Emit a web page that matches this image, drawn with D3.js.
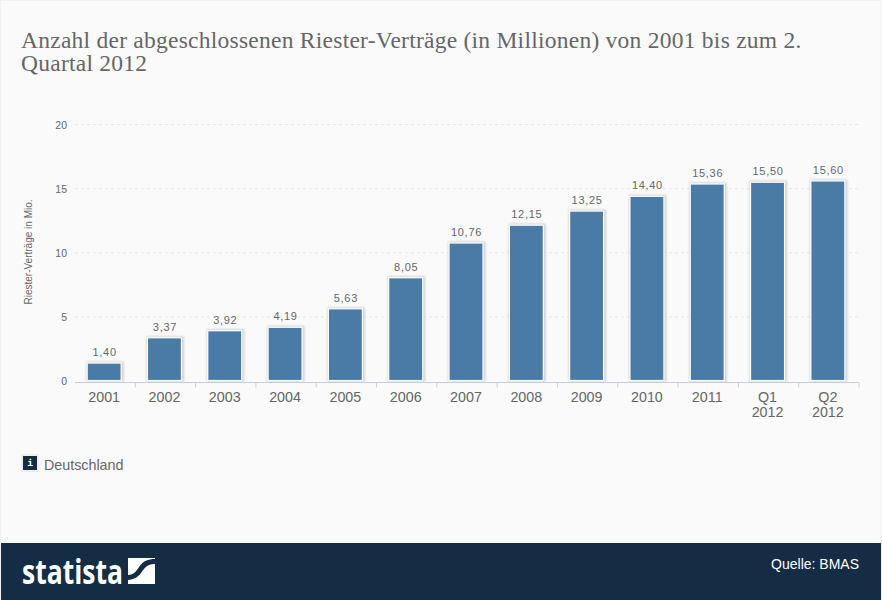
<!DOCTYPE html>
<html>
<head>
<meta charset="utf-8">
<script src="https://cdn.jsdelivr.net/npm/d3@7"></script>
<style>
  html, body { margin: 0; padding: 0; background: #fafafa; }
  svg { display: block; }
</style>
</head>
<body>
<svg id="chart" width="882" height="600"></svg>
<script>
const categories = ["2001", "2002", "2003", "2004", "2005", "2006", "2007", "2008", "2009", "2010", "2011", "Q1 2012", "Q2 2012"];
const values = [1.40, 3.37, 3.92, 4.19, 5.63, 8.05, 10.76, 12.15, 13.25, 14.40, 15.36, 15.50, 15.60];
const yTicks = [0, 5, 10, 15, 20];
const titleLines = ["Anzahl der abgeschlossenen Riester-Verträge (in Millionen) von 2001 bis zum 2.", "Quartal 2012"];

const sans = "Arial, 'Liberation Sans', sans-serif";
const svg = d3.select("#chart");

// blur for the bar shadows
svg.append("defs").append("filter").attr("id", "soft")
    .attr("x", "-20%").attr("y", "-20%").attr("width", "140%").attr("height", "140%")
    .append("feGaussianBlur").attr("stdDeviation", 1);

// page background with the thin lighter frame
svg.append("rect").attr("width", 882).attr("height", 600).attr("fill", "#f0f0f0");
svg.append("rect").attr("x", 1).attr("y", 1).attr("width", 880).attr("height", 598).attr("fill", "#fafafa");

// title, one text with a line per tspan
svg.append("text")
    .attr("fill", "#666666")
    .style("font-family", "'Liberation Serif', serif")
    .style("font-size", "23.5px")
    .style("letter-spacing", "0.25px")
    .selectAll("tspan").data(titleLines).join("tspan")
    .attr("x", 21)
    .attr("y", (d, i) => 48 + i * 23)
    .text(d => d);

const x = d3.scaleBand().domain(categories).range([75, 859]);
const y = d3.scaleLinear().domain([0, 20]).range([381, 124.5]);

// gridlines
svg.append("g").selectAll("line").data(yTicks.filter(d => d > 0)).join("line")
    .attr("x1", 75).attr("x2", 859)
    .attr("y1", d => y(d)).attr("y2", d => y(d))
    .attr("stroke", "#e6e6e6")
    .attr("stroke-dasharray", "3,3");

// y axis labels
svg.append("g").selectAll("text").data(yTicks).join("text")
    .attr("x", 67)
    .attr("y", d => y(d) + 4)
    .attr("text-anchor", "end")
    .attr("fill", "#666666")
    .style("font-family", sans)
    .style("font-size", "10.5px")
    .text(d => d);

svg.append("text")
    .attr("transform", "translate(32,252) rotate(-90)")
    .attr("text-anchor", "middle")
    .attr("fill", "#666666")
    .style("font-family", sans)
    .style("font-size", "10px")
    .text("Riester-Verträge in Mio.");

// bars
const barW = 34;
const barX = d => x(d) + (x.bandwidth() - barW) / 2 - 1;
const bars = svg.append("g");

// soft shadow behind each bar
bars.selectAll("rect.shadow").data(categories).join("rect")
    .attr("class", "shadow")
    .attr("x", d => barX(d) - 1)
    .attr("y", (d, i) => y(values[i]) - 1.5)
    .attr("width", barW + 3.5)
    .attr("height", (d, i) => y(0) - y(values[i]) + 2)
    .attr("fill", "#d2d2d2")
    .attr("filter", "url(#soft)");

bars.selectAll("rect.bar").data(categories).join("rect")
    .attr("class", "bar")
    .attr("x", d => barX(d))
    .attr("y", (d, i) => y(values[i]))
    .attr("width", barW)
    .attr("height", (d, i) => y(0) - y(values[i]) - 0.5)
    .attr("fill", "#4a7ba6")
    .attr("stroke", "#ffffff")
    .attr("stroke-width", 1.2);

// value labels
svg.append("g").selectAll("text").data(categories).join("text")
    .attr("x", d => x(d) + x.bandwidth() / 2 - 0.5)
    .attr("y", (d, i) => y(values[i]) - 7)
    .attr("text-anchor", "middle")
    .attr("fill", "#666666")
    .style("font-family", sans)
    .style("font-size", "11px")
    .style("letter-spacing", "0.7px")
    .text((d, i) => d3.format(".2f")(values[i]).replace(".", ","));

// x axis
const axisY = 382.5;
svg.append("line").attr("x1", 75).attr("x2", 859).attr("y1", axisY).attr("y2", axisY)
    .attr("stroke", "#c0d0e0");
svg.append("g").selectAll("line").data(categories).join("line")
    .attr("x1", d => x(d) + x.bandwidth())
    .attr("x2", d => x(d) + x.bandwidth())
    .attr("y1", axisY).attr("y2", axisY + 5)
    .attr("stroke", "#c0d0e0");

const xLabels = svg.append("g").selectAll("text").data(categories).join("text")
    .attr("text-anchor", "middle")
    .attr("fill", "#666666")
    .style("font-family", sans)
    .style("font-size", "14.3px");
xLabels.each(function(d) {
    d3.select(this).selectAll("tspan").data(d.split(" ")).join("tspan")
        .attr("x", x(d) + x.bandwidth() / 2 - 1)
        .attr("y", (p, i) => 402 + i * 15)
        .text(p => p);
});

// legend / info box
svg.append("rect").attr("x", 21).attr("y", 454).attr("width", 18).attr("height", 18).attr("fill", "#eeeeee");
svg.append("rect").attr("x", 23).attr("y", 456).attr("width", 14).attr("height", 14).attr("fill", "#142c44");
svg.append("text").attr("x", 30).attr("y", 466).attr("text-anchor", "middle").attr("fill", "#ffffff")
    .style("font-family", "'DejaVu Sans Mono', monospace").style("font-size", "9.5px").style("font-weight", "bold").text("i");
svg.append("text").attr("x", 44).attr("y", 469.5).attr("fill", "#666666")
    .style("font-family", sans).style("font-size", "14.3px").text("Deutschland");

// footer
svg.append("rect").attr("x", 1).attr("y", 543).attr("width", 880).attr("height", 57).attr("fill", "#142c44");
svg.append("text")
    .attr("transform", "translate(22,584) scale(0.78,1)")
    .attr("fill", "#ffffff")
    .style("font-family", "'Open Sans', sans-serif")
    .style("font-weight", "700")
    .style("font-size", "34px")
    .text("statista");
const logo = svg.append("g").attr("transform", "translate(128,558)");
logo.append("rect").attr("width", 27).attr("height", 26).attr("fill", "#ffffff");
logo.append("path")
    .attr("d", "M0,22 C10,21 12,16 16,11 C19,7 23,6 27,6 L27,1 C20,1 15,3 11,9 C8,14 5,17 0,17 Z")
    .attr("fill", "#142c44");
svg.append("text").attr("x", 859).attr("y", 569).attr("text-anchor", "end").attr("fill", "#ffffff")
    .style("font-family", sans).style("font-size", "14px").text("Quelle: BMAS");
</script>
</body>
</html>
